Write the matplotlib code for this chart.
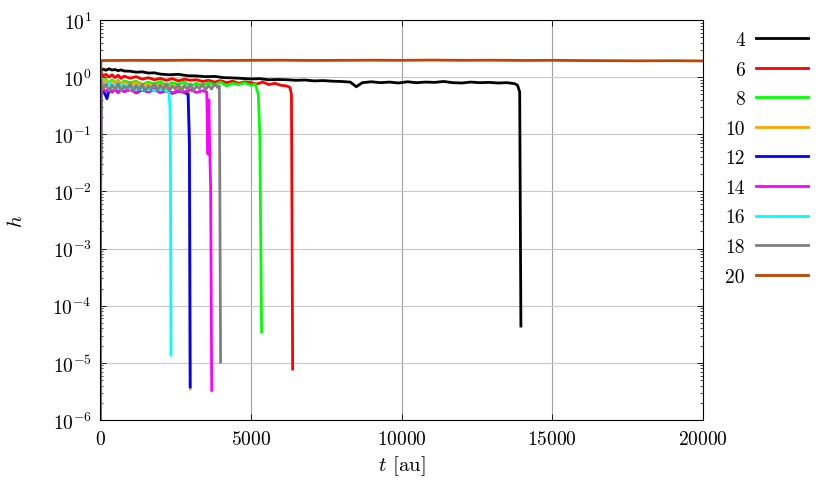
import matplotlib
matplotlib.use("Agg")
import matplotlib.pyplot as plt
from matplotlib.ticker import LogLocator, NullFormatter, LogFormatterSciNotation

plt.rcParams["font.family"] = "serif"
plt.rcParams["font.serif"] = ["cmr10"]
plt.rcParams["mathtext.fontset"] = "cm"
plt.rcParams["axes.formatter.use_mathtext"] = True

# simulation traces, h(t) per system size
labels = ["4", "6", "8", "10", "12", "14", "16", "18", "20"]
colors = ["#000000", "#ff0000", "#00ff00", "#ffa500", "#0000ff",
          "#ff00ff", "#00ffff", "#808080", "#bf4500"]

t4 = [0, 30, 100, 200, 300, 400, 500, 600, 700, 800, 1000, 1200, 1400, 1600,
      1800, 2000, 2300, 2600, 2900, 3200, 3500, 3800, 4100, 4400, 4700, 5000,
      5300, 5600, 5900, 6200, 6500, 6800, 7100, 7400, 7700, 8000, 8300, 8500,
      8700, 9000, 9300, 9600, 9900, 10200, 10500, 10800, 11100, 11400, 11700,
      12000, 12300, 12600, 12900, 13200, 13500, 13750, 13850, 13920, 13960]
h4 = [1e-6, 1.3, 1.38, 1.32, 1.4, 1.33, 1.36, 1.3, 1.34, 1.28, 1.27, 1.22,
      1.24, 1.18, 1.19, 1.13, 1.1, 1.12, 1.06, 1.05, 1.02, 1.03, 0.98, 0.97,
      0.95, 0.93, 0.94, 0.9, 0.91, 0.9, 0.88, 0.89, 0.86, 0.87, 0.85, 0.84,
      0.82, 0.68, 0.8, 0.83, 0.8, 0.82, 0.79, 0.83, 0.8, 0.82, 0.81, 0.84,
      0.8, 0.79, 0.82, 0.8, 0.81, 0.79, 0.8, 0.77, 0.72, 0.55, 4.4e-5]

t6 = [0, 30, 100, 200, 300, 400, 500, 600, 700, 800, 1000, 1200, 1400, 1600,
      1800, 2000, 2200, 2400, 2600, 2800, 3000, 3200, 3400, 3600, 3800, 4000,
      4200, 4400, 4600, 4800, 5000, 5200, 5400, 5600, 5800, 6000, 6200, 6300,
      6350, 6390]
h6 = [1e-6, 1.2, 1.05, 1.12, 1.0, 1.1, 0.98, 1.08, 0.95, 1.04, 0.96, 1.02,
      0.92, 0.98, 0.9, 0.95, 0.88, 0.94, 0.86, 0.92, 0.88, 0.9, 0.84, 0.88,
      0.82, 0.87, 0.8, 0.85, 0.78, 0.83, 0.8, 0.76, 0.82, 0.74, 0.78, 0.72,
      0.7, 0.66, 0.5, 7.8e-6]

t8 = [0, 30, 100, 200, 300, 400, 500, 600, 700, 800, 1000, 1200, 1400, 1600,
      1800, 2000, 2200, 2400, 2600, 2800, 3000, 3200, 3400, 3600, 3800, 4000,
      4200, 4400, 4600, 4800, 5000, 5150, 5250, 5300, 5360]
h8 = [1e-6, 1.0, 0.85, 0.92, 0.78, 0.9, 0.8, 0.88, 0.76, 0.86, 0.8, 0.85,
      0.74, 0.82, 0.76, 0.84, 0.72, 0.8, 0.75, 0.82, 0.7, 0.78, 0.72, 0.8,
      0.74, 0.82, 0.7, 0.78, 0.74, 0.8, 0.72, 0.76, 0.5, 0.1, 3.5e-5]

t10 = [0, 30, 100, 200, 300, 400, 500, 600, 700, 800, 1000, 1200, 1400, 1600,
       1800, 2000, 2200, 2400, 2600, 2800, 2930, 2960, 2975, 2995]
h10 = [1e-6, 0.95, 0.8, 0.88, 0.75, 0.84, 0.78, 0.85, 0.72, 0.8, 0.74, 0.8,
       0.7, 0.76, 0.68, 0.74, 0.66, 0.72, 0.64, 0.68, 0.62, 0.07, 0.05, 3.5e-6]

t12 = [0, 30, 100, 170, 230, 300, 400, 500, 600, 700, 800, 1000, 1200, 1400,
       1600, 1800, 2000, 2200, 2400, 2600, 2800, 2920, 2950, 2965, 2990]
h12 = [1e-6, 0.8, 0.62, 0.5, 0.42, 0.6, 0.55, 0.62, 0.54, 0.6, 0.56, 0.62,
       0.53, 0.6, 0.55, 0.61, 0.54, 0.58, 0.52, 0.57, 0.54, 0.5, 0.15, 0.075,
       3.8e-6]

t14 = [0, 30, 100, 200, 300, 400, 500, 600, 700, 800, 1000, 1200, 1400, 1600,
       1800, 2000, 2200, 2400, 2600, 2800, 3000, 3200, 3400, 3540, 3580, 3610,
       3640, 3670, 3705]
h14 = [1e-6, 0.8, 0.62, 0.56, 0.64, 0.55, 0.6, 0.54, 0.62, 0.56, 0.6, 0.54,
       0.62, 0.56, 0.6, 0.55, 0.6, 0.53, 0.58, 0.55, 0.6, 0.54, 0.58, 0.55,
       0.045, 0.4, 0.05, 0.012, 3.3e-6]

t16 = [0, 30, 100, 200, 300, 400, 500, 600, 700, 800, 900, 1000, 1100, 1200,
       1300, 1400, 1500, 1600, 1700, 1800, 1900, 2000, 2100, 2200, 2280, 2320,
       2335, 2355]
h16 = [1e-6, 0.9, 0.78, 0.7, 0.8, 0.68, 0.76, 0.64, 0.74, 0.66, 0.72, 0.62,
       0.7, 0.6, 0.68, 0.6, 0.66, 0.59, 0.64, 0.57, 0.63, 0.6, 0.62, 0.57,
       0.6, 0.3, 0.08, 1.37e-5]

t18 = [0, 30, 100, 200, 300, 400, 500, 600, 700, 800, 900, 1000, 1100, 1200,
       1300, 1400, 1500, 1600, 1700, 1800, 1900, 2000, 2100, 2200, 2300, 2400,
       2500, 2600, 2700, 2800, 2900, 3000, 3100, 3200, 3300, 3400, 3500, 3600,
       3700, 3800, 3900, 3960, 4000]
h18 = [1e-6, 0.85, 0.62, 0.75, 0.58, 0.72, 0.6, 0.77, 0.57, 0.7, 0.62, 0.76,
       0.58, 0.72, 0.6, 0.75, 0.57, 0.7, 0.62, 0.76, 0.58, 0.73, 0.6, 0.77,
       0.58, 0.7, 0.62, 0.75, 0.57, 0.72, 0.61, 0.76, 0.58, 0.7, 0.63, 0.75,
       0.6, 0.72, 0.62, 0.76, 0.66, 0.7, 1.03e-5]

t20 = [0, 30, 1000, 2000, 3000, 4000, 5000, 6000, 7000, 8000, 9000, 10000,
       11000, 12000, 13000, 14000, 15000, 16000, 17000, 18000, 19000, 20000]
h20 = [1e-6, 1.95, 1.97, 1.96, 1.98, 1.96, 1.97, 1.98, 1.96, 1.97, 1.98,
       1.97, 1.99, 1.97, 1.98, 1.96, 1.97, 1.95, 1.94, 1.93, 1.94, 1.92]

times = [t4, t6, t8, t10, t12, t14, t16, t18, t20]
values = [h4, h6, h8, h10, h12, h14, h16, h18, h20]

fig = plt.figure(figsize=(8.3, 4.85), dpi=100)
ax = fig.add_axes([100 / 830, 1 - 421 / 485, 603 / 830, 400 / 485])

handles = []
for t, h, c, lab in zip(times, values, colors, labels):
    ln, = ax.plot(t, h, color=c, lw=2.0, label=lab)
    handles.append(ln)

ax.set_yscale("log")
ax.set_xlim(0, 20000)
ax.set_ylim(1e-6, 10)
ax.set_xticks([0, 5000, 10000, 15000, 20000])
ax.yaxis.set_major_locator(LogLocator(base=10, numticks=20))
ax.yaxis.set_major_formatter(LogFormatterSciNotation())
ax.yaxis.set_minor_locator(LogLocator(base=10, subs=range(2, 10), numticks=20))
ax.yaxis.set_minor_formatter(NullFormatter())
ax.xaxis.get_offset_text().set_visible(False)
ax.yaxis.get_offset_text().set_visible(False)

ax.tick_params(which="both", direction="in", top=True, right=True, labelsize=14)
ax.tick_params(which="major", length=4, width=0.6)
ax.tick_params(axis="x", which="major", pad=7)
ax.tick_params(axis="y", which="major", pad=6)
ax.tick_params(which="minor", length=2.2, width=0.5)

ax.grid(axis="y", which="major", color="#c8c8c8", lw=0.8)
ax.grid(axis="x", which="major", color="#a0a0a0", lw=0.8)
ax.set_axisbelow(True)
for s in ax.spines.values():
    s.set_linewidth(0.8)

ax.set_xlabel("$t$ [au]", fontsize=15, labelpad=4)
ax.set_ylabel("$h$", fontsize=15, labelpad=19)

fig.legend(handles=handles, labels=labels, loc="upper right",
           bbox_to_anchor=(808 / 830, 1 - 32 / 485), frameon=False,
           markerfirst=False, fontsize=14, borderpad=0, borderaxespad=0,
           handlelength=2.65, handletextpad=0.6, labelspacing=0.6)

plt.savefig("out.png", dpi=100)
plt.close()
